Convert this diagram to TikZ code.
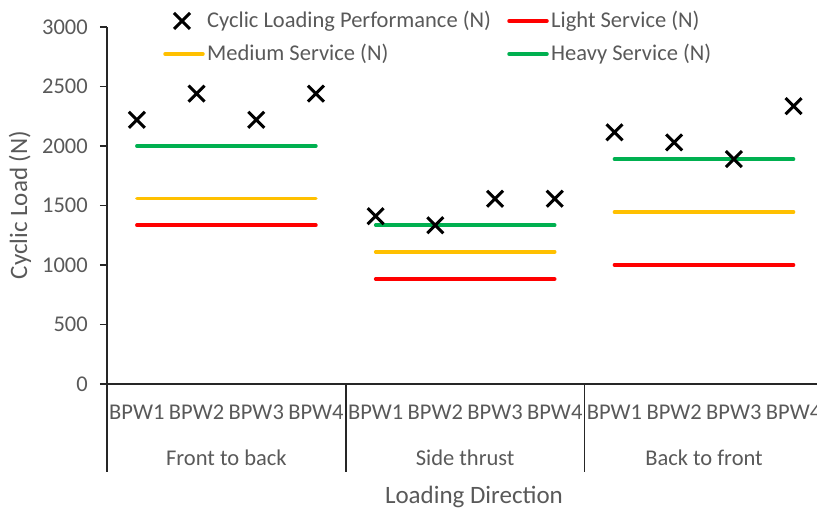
\documentclass[tikz,border=0pt]{standalone}
\usepackage{fontspec}
\setmainfont{Carlito}
\usepackage{xcolor}
\usetikzlibrary{shapes.misc}
\definecolor{lightsvc}{HTML}{FF0000}
\definecolor{mediumsvc}{HTML}{FFC000}
\definecolor{heavysvc}{HTML}{00B050}
\definecolor{labelgray}{HTML}{595959}
\def\ys{0.119}   % pt per newton on the load axis
\def\catw{59.7}  % width of one BPW column
\def\grpw{238.8} % width of one loading direction
\tikzset{
  axisline/.style={ % axes, ticks and the group dividers
    line width=1.4pt, black!85
  },
  ticklabel/.style={
    anchor=east, inner sep=0pt, text=labelgray,
    font=\fontsize{22.5}{26}\selectfont
  },
  catlabel/.style={
    inner sep=0pt, text=labelgray,
    font=\fontsize{22.5}{26}\selectfont
  },
  axistitle/.style={
    inner sep=0pt, text=labelgray,
    font=\fontsize{25}{29}\selectfont
  },
  service/.style={ % horizontal service level line
    line width=3.5pt, line cap=round
  },
  cyclic/.style={ % cross marker for a measured load
    cross out, draw=black, line width=3pt,
    minimum size=13pt, inner sep=0pt
  }
}

\begin{document}
\begin{tikzpicture}[x=1pt, y=1pt]
  \useasboundingbox (-107,-126) rectangle (710,384);

  % load axis with ticks
  \draw[axisline] (0,0) -- (0,{3000*\ys});
  \foreach \v in {0,500,...,3000}{
    \draw[axisline] (-7,{\v*\ys}) -- (0,{\v*\ys});
    \node[ticklabel] (tick\v) at (-19,{\v*\ys}) {\v};
  }
  \node[axistitle, rotate=90] (ytitle) at (-87,179) {Cyclic Load (N)};

  % category axis, divided into the three loading directions
  \draw[axisline] (0,0) -- (710,0);
  \foreach \g in {0,1,2,3}
    \draw[axisline] ({\g*\grpw},0) -- ({\g*\grpw},-88);
  \foreach \g/\dir in {0/Front to back,1/Side thrust,2/Back to front}{
    \foreach \c in {1,...,4}
      \node[catlabel] (bpw\g\c) at ({\g*\grpw+(\c-0.5)*\catw},-28) {BPW\c};
    \node[catlabel] (dir\g) at ({(\g+0.5)*\grpw},-74) {\dir};
  }
  \node[axistitle] (xtitle) at (367,-113) {Loading Direction};

  % service levels: light / medium / heavy per direction
  \foreach \g/\lt/\md/\hv in {0/1334/1557/2000,1/882/1110/1334,2/1000/1445/1890}{
    \draw[service, lightsvc]  ({\g*\grpw+0.5*\catw},{\lt*\ys}) -- ({\g*\grpw+3.5*\catw},{\lt*\ys});
    \draw[service, mediumsvc] ({\g*\grpw+0.5*\catw},{\md*\ys}) -- ({\g*\grpw+3.5*\catw},{\md*\ys});
    \draw[service, heavysvc]  ({\g*\grpw+0.5*\catw},{\hv*\ys}) -- ({\g*\grpw+3.5*\catw},{\hv*\ys});
  }

  % cyclic loading performance
  \foreach \g/\a/\b/\c/\d in {0/2220/2440/2220/2440,1/1410/1334/1557/1557,2/2115/2030/1890/2335}{
    \node[cyclic] (perf\g1) at ({\g*\grpw+0.5*\catw},{\a*\ys}) {};
    \node[cyclic] (perf\g2) at ({\g*\grpw+1.5*\catw},{\b*\ys}) {};
    \node[cyclic] (perf\g3) at ({\g*\grpw+2.5*\catw},{\c*\ys}) {};
    \node[cyclic] (perf\g4) at ({\g*\grpw+3.5*\catw},{\d*\ys}) {};
  }

  % legend
  \node[cyclic] (legperf) at (75,363) {};
  \node[catlabel, anchor=west] (legperftxt) at (100,363) {Cyclic Loading Performance (N)};
  \draw[service, lightsvc] (402,363) -- (440,363);
  \node[catlabel, anchor=west] (leglighttxt) at (444,363) {Light Service (N)};
  \draw[service, mediumsvc] (58,330) -- (96,330);
  \node[catlabel, anchor=west] (legmedtxt) at (100,330) {Medium Service (N)};
  \draw[service, heavysvc] (402,330) -- (440,330);
  \node[catlabel, anchor=west] (legheavytxt) at (444,330) {Heavy Service (N)};
\end{tikzpicture}
\end{document}
